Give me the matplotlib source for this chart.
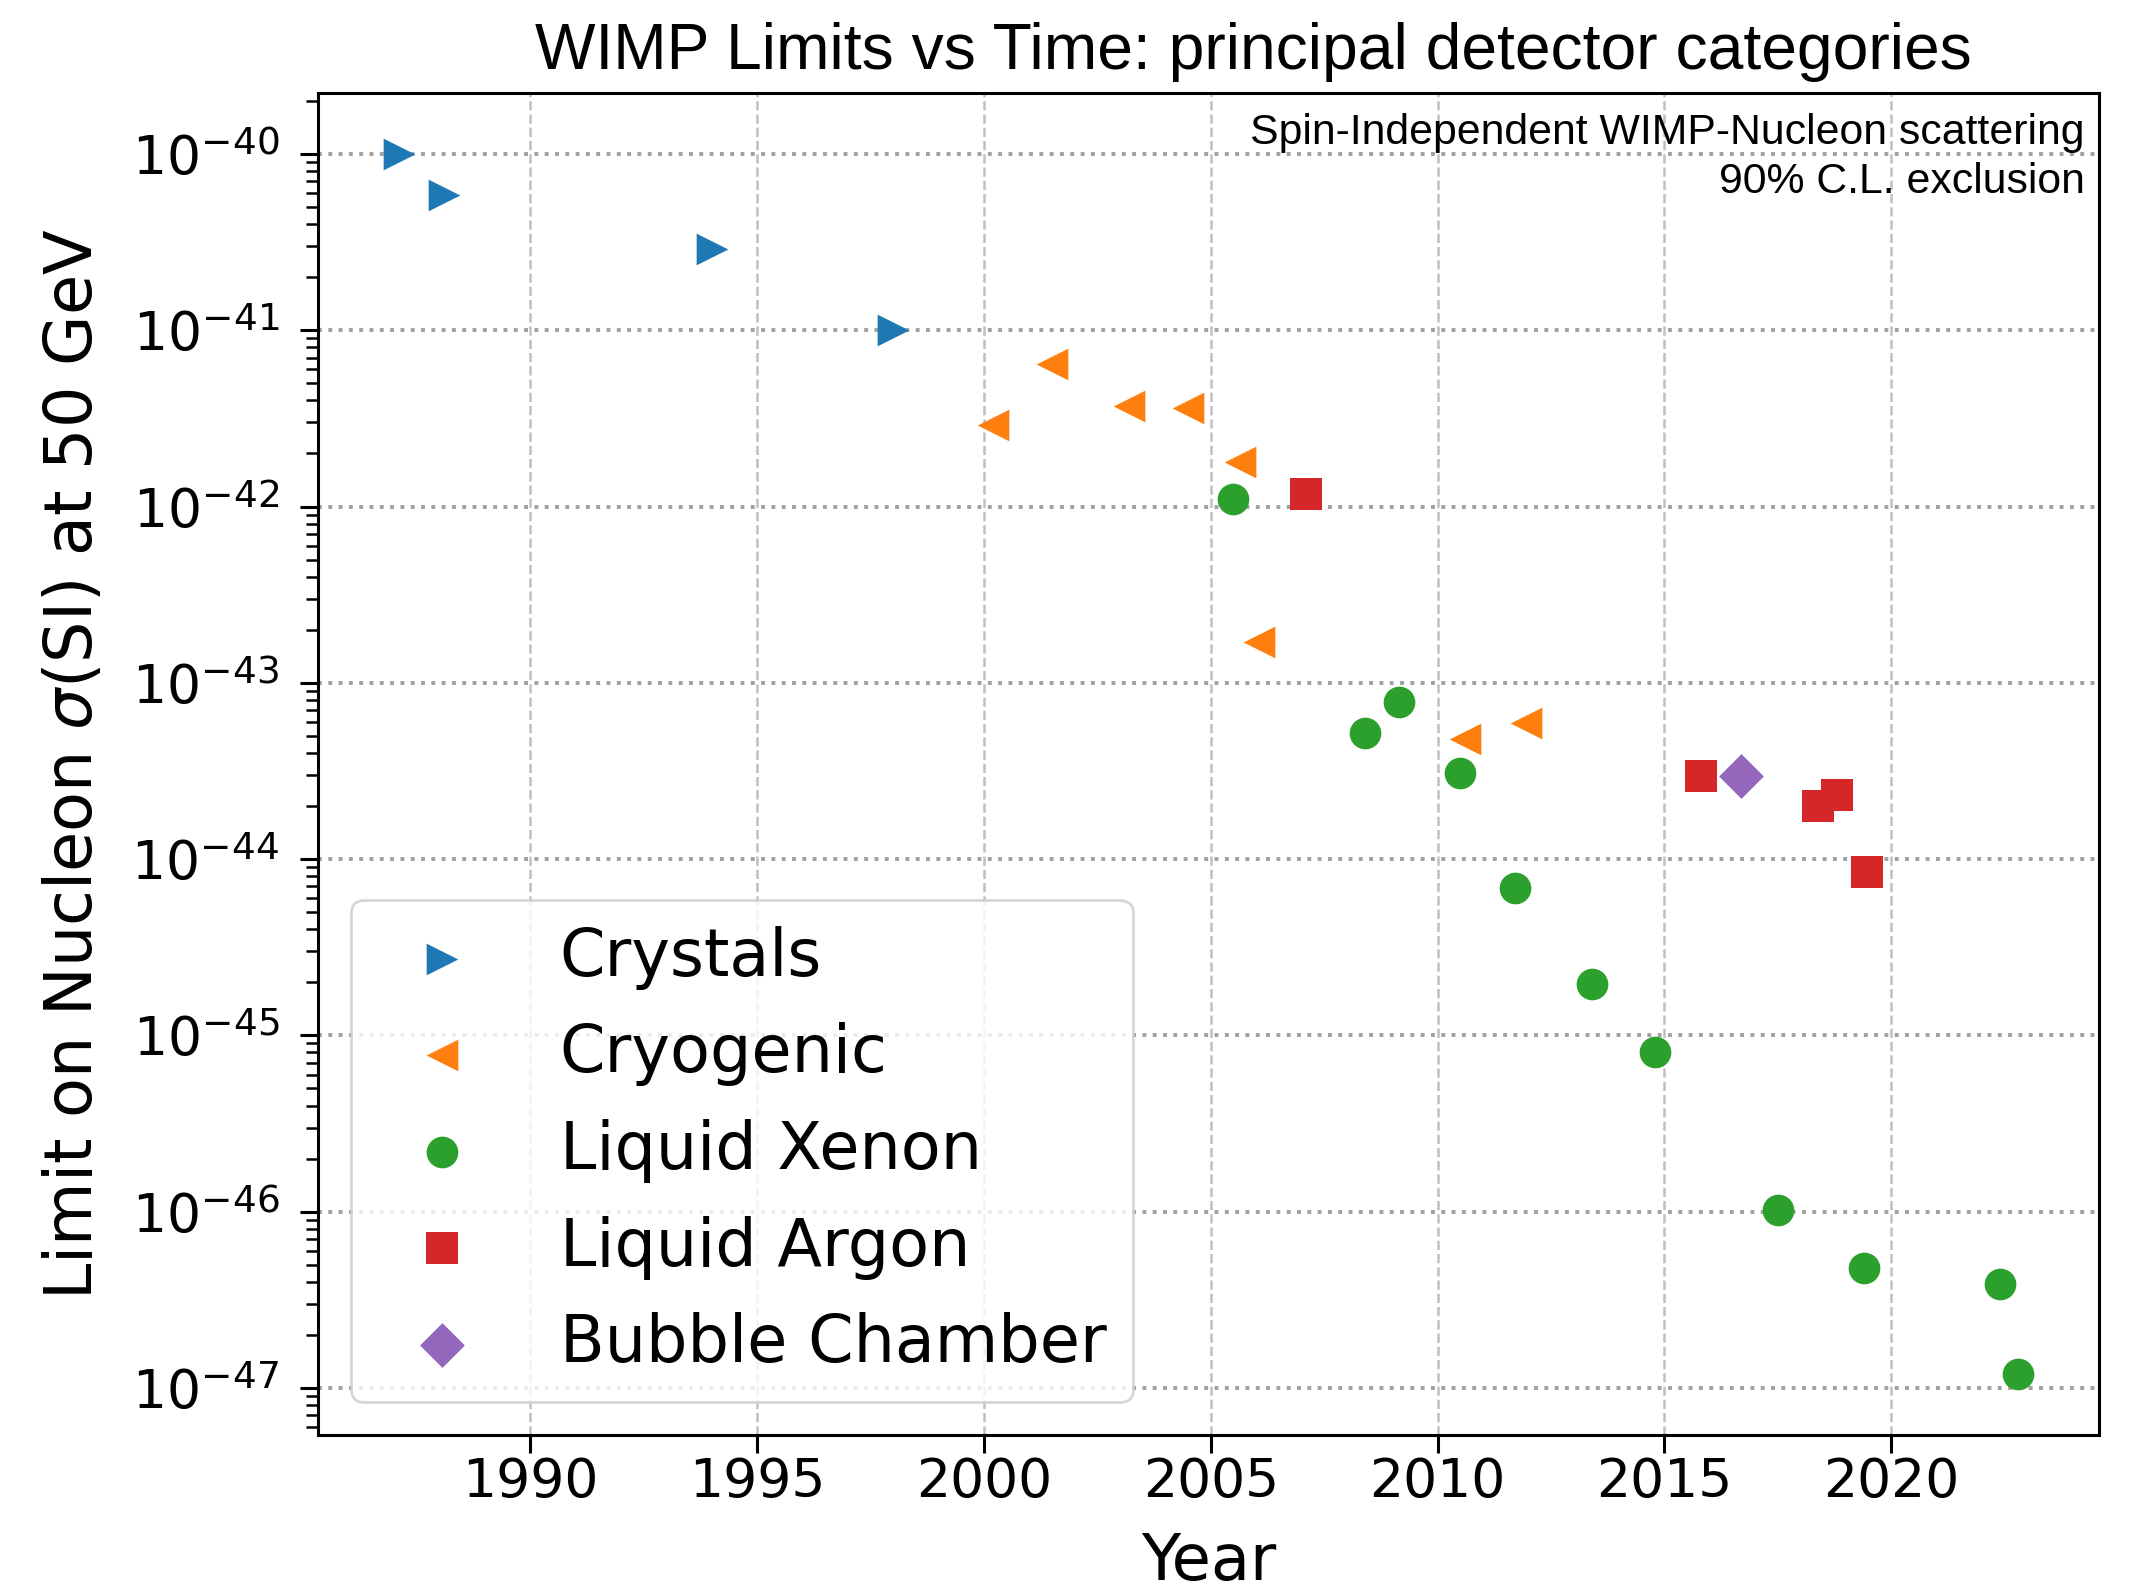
import matplotlib
matplotlib.use("Agg")
import matplotlib.pyplot as plt
from matplotlib.ticker import NullFormatter
import numpy as np

# ---- data ----
crystals_year = [1987.1, 1988.1, 1994.0, 1998.0]
crystals_sigma = [1.0e-40, 5.85e-41, 2.9e-41, 1.0e-41]

cryo_year = [2000.2, 2001.5, 2003.2, 2004.5, 2005.65, 2006.07, 2010.6, 2011.96]
cryo_sigma = [2.9e-42, 6.4e-42, 3.7e-42, 3.6e-42, 1.8e-42, 1.7e-43, 4.8e-44, 5.9e-44]

xenon_year = [2005.5, 2008.4, 2009.15, 2010.5, 2011.7, 2013.4, 2014.8, 2017.5, 2019.4, 2022.4, 2022.8]
xenon_sigma = [1.1e-42, 5.2e-44, 7.8e-44, 3.1e-44, 6.9e-45, 1.96e-45, 8.0e-46, 1.02e-46, 4.8e-47, 3.9e-47, 1.2e-47]

argon_year = [2007.1, 2015.8, 2018.4, 2018.8, 2019.46]
argon_sigma = [1.18e-42, 2.96e-44, 2.0e-44, 2.3e-44, 8.4e-45]

bubble_year = [2016.7]
bubble_sigma = [2.96e-44]

labels = ["Crystals", "Cryogenic", "Liquid Xenon", "Liquid Argon", "Bubble Chamber"]
years_xticks = [1990, 1995, 2000, 2005, 2010, 2015, 2020]
sigma_yticks = [1e-40, 1e-41, 1e-42, 1e-43, 1e-44, 1e-45, 1e-46, 1e-47]

series = [
    (crystals_year, crystals_sigma, ">", "#1f77b4"),
    (cryo_year, cryo_sigma, "<", "#ff7f0e"),
    (xenon_year, xenon_sigma, "o", "#2ca02c"),
    (argon_year, argon_sigma, "s", "#d62728"),
    (bubble_year, bubble_sigma, "D", "#9467bd"),
]

fig = plt.figure(figsize=(10.74, 7.98), dpi=200)
ax = fig.add_axes([318/2148, (1596-1435)/1596, (2099-318)/2148, (1435-93)/1596])

for (x, y, m, c), lab in zip(series, labels):
    ax.scatter(x, y, marker=m, color=c, s=130, label=lab, zorder=3, linewidths=0)

ax.set_yscale("log")
ax.set_yticks(sigma_yticks)
ax.yaxis.set_minor_formatter(NullFormatter())
ax.set_xticks(years_xticks)
ax.tick_params(axis="both", which="major", labelsize=19.3, length=6.5, width=1.1)
ax.tick_params(axis="y", which="minor", length=4.3, width=0.9)
ax.tick_params(axis="x", which="major", pad=1.2)
ax.tick_params(axis="y", which="major", pad=7.5)
for sp in ax.spines.values():
    sp.set_linewidth(1.1)
ax.grid(True, axis="y", which="major", ls=":", color="#a0a0a0", lw=1.4)
ax.grid(True, axis="x", which="major", ls="--", color="#c0c0c0", lw=0.9)
ax.set_axisbelow(True)

ax.set_xlabel("Year", fontsize=23, labelpad=8)
ax.set_ylabel(r"Limit on Nucleon $\sigma$(SI) at 50 GeV", fontsize=23.5, labelpad=9)
ax.set_title("WIMP Limits vs Time: principal detector categories",
             fontsize=23.1, family="Liberation Sans", x=0.525, pad=8.5)

ax.text(0.992, 0.985, "Spin-Independent WIMP-Nucleon scattering\n90% C.L. exclusion",
        transform=ax.transAxes, ha="right", va="top", fontsize=15.4,
        family="Liberation Sans", linespacing=1.3)

ax.legend(loc="lower left", fontsize=23.5)

fig.savefig("out.png", dpi=200)
